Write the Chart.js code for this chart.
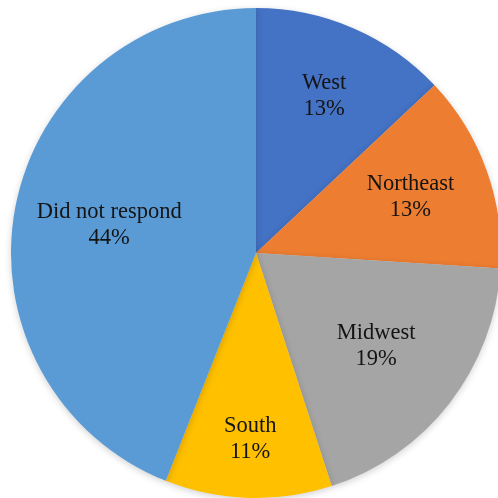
<!DOCTYPE html>
<html>
<head>
<meta charset="utf-8">
<script src="https://cdn.jsdelivr.net/npm/chart.js@4.4.1/dist/chart.umd.min.js"></script>
<style>
    html, body { margin: 0; padding: 0; background: #fff; }
    #wrap { position: relative; width: 498px; height: 498px; overflow: hidden; }
    #chart { position: absolute; left: 1px; top: -2px; }
</style>
</head>
<body>
<div id="wrap"><canvas id="chart" width="510" height="510"></canvas></div>
<script>
// regions, clockwise from 12 o'clock
const categories = ["West", "Northeast", "Midwest", "South", "Did not respond"];
const percents = [13, 13, 19, 11, 44];
const sliceColors = ["#4472C4", "#ED7D31", "#A5A5A5", "#FFC000", "#5B9BD5"];

// how far out each label sits, as a fraction of the radius
const labelDepth = [0.70, 0.67, 0.62, 0.76, 0.61];

/** soft drop shadow under the pie */
const pieShadow = {
    id: "pieShadow",
    beforeDatasetsDraw(chart) {
        const ctx = chart.ctx;
        ctx.save();
        ctx.shadowColor = "rgba(0, 0, 0, 0.18)";
        ctx.shadowBlur = 7;
        ctx.shadowOffsetY = 2;
    },
    afterDatasetsDraw(chart) {
        chart.ctx.restore();
    },
};

/** category name + percentage inside each slice */
const sliceLabels = {
    id: "sliceLabels",
    afterDraw(chart) {
        const ctx = chart.ctx;
        const arcs = chart.getDatasetMeta(0).data;
        ctx.save();
        ctx.font = "22.5px 'Liberation Serif', 'Times New Roman', serif";
        ctx.fillStyle = "#141414";
        ctx.textAlign = "center";
        ctx.textBaseline = "middle";
        arcs.forEach((arc, i) => {
            const { x, y, startAngle, endAngle, outerRadius } = arc.getProps(
                ["x", "y", "startAngle", "endAngle", "outerRadius"], true);
            const mid = (startAngle + endAngle) / 2;
            const r = outerRadius * labelDepth[i];
            const lx = x + Math.cos(mid) * r;
            const ly = y + Math.sin(mid) * r;
            ctx.fillText(categories[i], lx, ly - 13);
            ctx.fillText(percents[i] + "%", lx, ly + 13);
        });
        ctx.restore();
    },
};

new Chart(document.getElementById("chart").getContext("2d"), {
    type: "pie",
    data: {
        labels: categories,
        datasets: [
            {
                data: percents,
                backgroundColor: sliceColors,
                borderWidth: 0,
            },
        ],
    },
    options: {
        responsive: false,
        animation: false,
        devicePixelRatio: 1,
        layout: { padding: 10 },
        plugins: {
            legend: { display: false },
            tooltip: { enabled: false },
        },
    },
    plugins: [pieShadow, sliceLabels],
});
</script>
</body>
</html>
